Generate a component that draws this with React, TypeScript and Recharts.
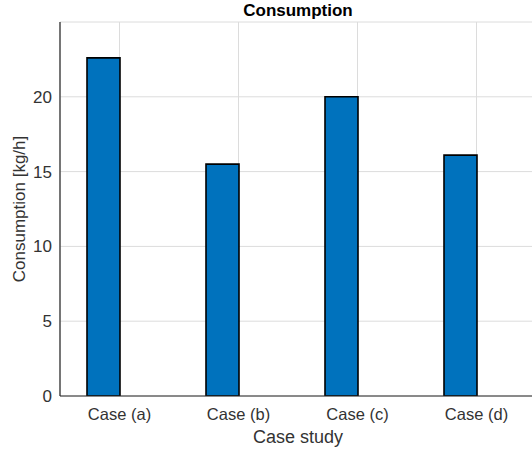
import React from 'react';
import { BarChart, Bar, XAxis, YAxis, CartesianGrid, Label } from 'recharts';

const categories = ['Case (a)', 'Case (b)', 'Case (c)', 'Case (d)'];
const consumption = [22.6, 15.5, 20.0, 16.1];
const secondSeries = [0, 0, 0, 0];
const yTicks = [0, 5, 10, 15, 20];

const data = categories.map((c, i) => ({ name: c, consumption: consumption[i], other: secondSeries[i] }));

const axisColor = '#262626';
const textColor = '#333333';

export default function App() {
  return (
    <div style={{ position: 'absolute', left: 0, top: 0, width: 532, height: 453, overflow: 'hidden', fontFamily: '"Liberation Sans", Arial, sans-serif', background: '#fff' }}>
      <BarChart width={540} height={453} data={data} margin={{ top: 22, right: 4, bottom: 0, left: 0 }} barGap={0}>
        <CartesianGrid stroke="#dcdcdc" strokeWidth={1} />
        <XAxis
          dataKey="name"
          height={57}
          tickSize={0}
          tickMargin={12}
          axisLine={{ stroke: axisColor, strokeWidth: 1.2 }}
          tick={{ fill: textColor, fontSize: 16.5 }}
        >
          <Label
            content={() => (
              <text x={298} y={443} textAnchor="middle" fill={textColor} fontSize={18}>Case study</text>
            )}
          />
          <Label
            content={() => (
              <text x={298} y={16} textAnchor="middle" fill="#000" fontSize={17} fontWeight="bold">Consumption</text>
            )}
          />
        </XAxis>
        <YAxis
          width={60}
          domain={[0, 25]}
          ticks={yTicks}
          tickSize={0}
          tickMargin={8}
          axisLine={{ stroke: axisColor, strokeWidth: 1.2 }}
          tick={{ fill: textColor, fontSize: 17 }}
          allowDataOverflow
        >
          <Label
            content={() => (
              <text x={19} y={209} transform="rotate(-90 19 209)" textAnchor="middle" dominantBaseline="central" fill={textColor} fontSize={17}>Consumption [kg/h]</text>
            )}
          />
        </YAxis>
        <Bar dataKey="consumption" fill="#0072BD" stroke="#000" strokeWidth={1.6} barSize={33} isAnimationActive={false} />
        <Bar dataKey="other" fill="#D95319" stroke="#000" strokeWidth={1.6} barSize={33} isAnimationActive={false} />
      </BarChart>
    </div>
  );
}
